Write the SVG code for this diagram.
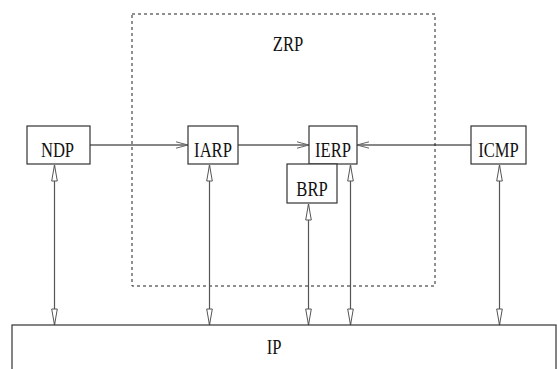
<svg xmlns="http://www.w3.org/2000/svg" width="557" height="369" viewBox="0 0 557 369">
<style>
.box{fill:#fff;stroke:#333;stroke-width:1.2}
text{font-family:'Liberation Serif','DejaVu Serif',serif;font-size:20px;fill:#111;text-anchor:middle}
.h{stroke:#111;stroke-width:1.2;fill:none}
.v{stroke:#555;stroke-width:1.2;fill:none}
</style>
<defs>
<marker id="tri" markerUnits="userSpaceOnUse" markerWidth="18" markerHeight="8" viewBox="-1 -4 18 8" refX="16" refY="0" orient="auto-start-reverse">
<path d="M0,-2.8 L16,0 L0,2.8 Z" fill="#fff" stroke="#555" stroke-width="1"/>
</marker>
<marker id="vee" markerUnits="userSpaceOnUse" markerWidth="14" markerHeight="8" viewBox="-1 -4 14 8" refX="12" refY="0" orient="auto">
<path d="M0,-3.2 L12,0 L0,3.2" fill="none" stroke="#666" stroke-width="1"/>
</marker>
</defs>
<rect width="557" height="369" fill="#fff"/>
<g id="zrp">
<rect x="132" y="14" width="303" height="272" fill="none" stroke="#222" stroke-width="1" stroke-dasharray="3,3"/>
<text transform="translate(288,51) scale(0.83,1)">ZRP</text>
</g>
<g id="connectors">
<line class="h" x1="90" y1="145" x2="188" y2="145" marker-end="url(#vee)"/>
<line class="h" x1="238" y1="145" x2="309" y2="145" marker-end="url(#vee)"/>
<line class="h" x1="471" y1="145" x2="357" y2="145" marker-end="url(#vee)"/>
<line class="v" x1="54.5" y1="165" x2="54.5" y2="325" marker-start="url(#tri)" marker-end="url(#tri)"/>
<line class="v" x1="209.5" y1="165" x2="209.5" y2="325" marker-start="url(#tri)" marker-end="url(#tri)"/>
<line class="v" x1="308.5" y1="204" x2="308.5" y2="325" marker-start="url(#tri)" marker-end="url(#tri)"/>
<line class="v" x1="350.5" y1="165" x2="350.5" y2="325" marker-start="url(#tri)" marker-end="url(#tri)"/>
<line class="v" x1="499.5" y1="165" x2="499.5" y2="325" marker-start="url(#tri)" marker-end="url(#tri)"/>
</g>
<g id="ndp">
<rect class="box" x="27" y="126" width="63" height="38"/>
<text transform="translate(57.5,157) scale(0.83,1)">NDP</text>
</g>
<g id="iarp">
<rect class="box" x="188" y="126" width="50" height="38"/>
<text transform="translate(213,157) scale(0.83,1)">IARP</text>
</g>
<g id="ierp">
<rect class="box" x="309" y="126" width="48" height="38"/>
<text transform="translate(333,157) scale(0.83,1)">IERP</text>
</g>
<g id="brp">
<rect class="box" x="287" y="164" width="50" height="39"/>
<text transform="translate(312,196) scale(0.83,1)">BRP</text>
</g>
<g id="icmp">
<rect class="box" x="471" y="126" width="55" height="38"/>
<text transform="translate(498.5,157) scale(0.83,1)">ICMP</text>
</g>
<g id="ip">
<rect class="box" x="12" y="325" width="544" height="60"/>
<text transform="translate(274,354) scale(0.83,1)">IP</text>
</g>
</svg>
